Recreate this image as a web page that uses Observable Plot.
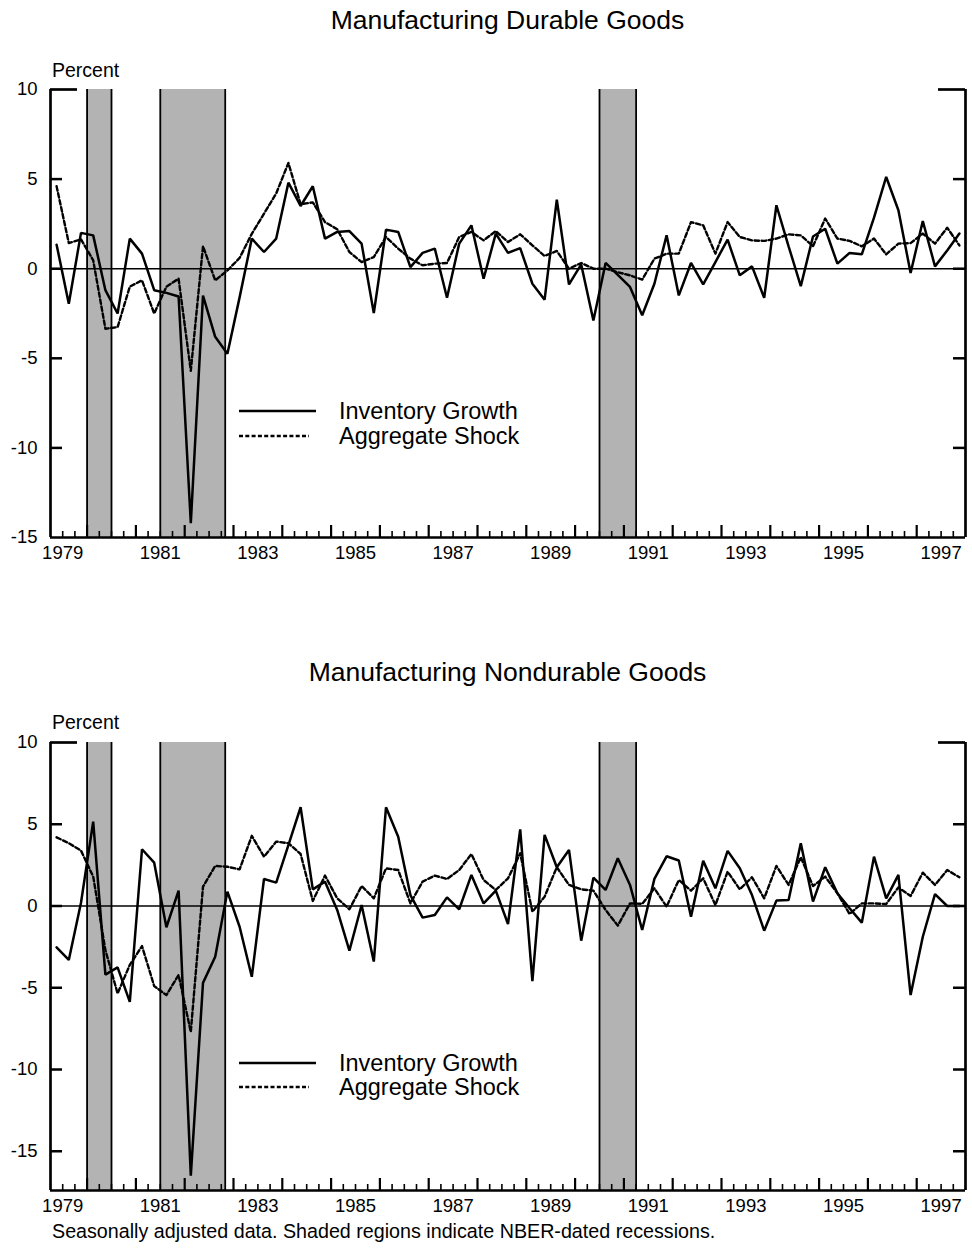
<!DOCTYPE html>
<html>
<head>
<meta charset="utf-8">
<script src="https://cdn.jsdelivr.net/npm/d3@7"></script>
<script src="https://cdn.jsdelivr.net/npm/@observablehq/plot@0.6"></script>
<style>
  body { margin: 0; background: #fff; }
  #page { position: relative; width: 972px; height: 1255px; overflow: hidden; background: #fff;
          font-family: "Liberation Sans", Arial, Helvetica, sans-serif; color: #000; }
  .abs { position: absolute; white-space: nowrap; line-height: 1; }
  .title { left: 50px; width: 915px; text-align: center; font-size: 26.5px; }
  .unit { left: 52px; font-size: 19.5px; }
  .leg { left: 339px; font-size: 23.5px; }
  .caption { left: 52px; font-size: 19.7px; }
  .panel { position: absolute; left: 0; }
  svg.legline { position: absolute; left: 0; top: 0; overflow: visible; }
</style>
</head>
<body>
<div id="page"></div>
<script>
// ---------- data ----------
const firstQuarter = "1979Q2";
const nQuarters = 75; // 1979Q2 .. 1997Q4

const durableInventory = [
  1.34, -1.96, 2.0, 1.86, -1.2, -2.5, 1.68, 0.84, -1.2, -1.35,
  -1.55, -14.2, -1.5, -3.8, -4.75, -1.6, 1.68, 0.93, 1.68, 4.8,
  3.5, 4.6, 1.68, 2.05, 2.1, 1.4, -2.48, 2.18, 2.05, 0.09,
  0.88, 1.12, -1.62, 1.4, 2.42, -0.56, 1.96, 0.88, 1.15, -0.84,
  -1.73, 3.85, -0.88, 0.24, -2.89, 0.32, -0.35, -1.02, -2.6, -0.84,
  1.86, -1.49, 0.32, -0.88, 0.37, 1.62, -0.37, 0.13, -1.62, 3.54,
  1.25, -0.97, 1.8, 2.23, 0.28, 0.88, 0.8, 2.85, 5.12, 3.26,
  -0.24, 2.66, 0.13, 1.02, 1.96
];
const durableShock = [
  4.6, 1.43, 1.64, 0.47, -3.35, -3.26, -1.0, -0.65, -2.5, -1.0,
  -0.56, -5.7, 1.25, -0.65, -0.1, 0.6, 1.95, 3.07, 4.2, 5.9,
  3.6, 3.7, 2.6, 2.2, 0.93, 0.37, 0.65, 1.77, 1.12, 0.56,
  0.19, 0.28, 0.32, 1.77, 2.05, 1.58, 2.1, 1.49, 1.92, 1.3,
  0.71, 0.99, 0.0, 0.32, 0.0, 0.0, -0.2, -0.37, -0.61, 0.56,
  0.84, 0.84, 2.6, 2.42, 0.84, 2.6, 1.77, 1.58, 1.55, 1.68,
  1.92, 1.86, 1.25, 2.8, 1.68, 1.55, 1.25, 1.68, 0.8, 1.4,
  1.43, 1.96, 1.4, 2.29, 1.3
];
const nondurableInventory = [
  -2.53, -3.3, 0.2, 5.16, -4.2, -3.75, -5.86, 3.47, 2.65, -1.3,
  0.94, -16.5, -4.7, -3.1, 0.88, -1.27, -4.33, 1.65, 1.43, 3.73,
  6.04, 1.02, 1.49, -0.24, -2.73, 0.06, -3.4, 6.04, 4.24, 0.67,
  -0.71, -0.55, 0.53, -0.2, 1.9, 0.16, 0.94, -1.1, 4.69, -4.59,
  4.35, 2.37, 3.43, -2.12, 1.73, 0.98, 2.92, 1.29, -1.47, 1.66,
  3.04, 2.78, -0.65, 2.76, 1.08, 3.37, 2.31, 0.67, -1.51, 0.33,
  0.37, 3.84, 0.27, 2.37, 0.78, -0.14, -1.02, 3.02, 0.47, 1.9,
  -5.45, -1.88, 0.73, 0.0, 0.0
];
const nondurableShock = [
  4.2, 3.84, 3.39, 1.8, -2.7, -5.35, -3.6, -2.45, -4.9, -5.45,
  -4.22, -7.7, 1.18, 2.45, 2.4, 2.24, 4.29, 3.02, 3.94, 3.84,
  3.18, 0.31, 1.86, 0.47, -0.2, 1.22, 0.47, 2.3, 2.2, 0.16,
  1.49, 1.86, 1.65, 2.2, 3.18, 1.59, 0.98, 1.69, 3.22, -0.35,
  0.57, 2.37, 1.29, 1.02, 0.94, -0.24, -1.2, 0.16, 0.13, 1.08,
  -0.04, 1.59, 0.94, 1.69, 0.06, 2.1, 1.02, 1.76, 0.47, 2.45,
  1.29, 2.98, 1.22, 1.8, 0.78, -0.49, 0.16, 0.16, 0.12, 1.14,
  0.61, 2.04, 1.29, 2.2, 1.76
];

// NBER recessions (peak, trough) in decimal years
const recessionStart = [1980.0, 1981.5, 1990.5];
const recessionEnd   = [1980.5, 1982.83, 1991.25];

const xDomain = [1979.25, 1998.0];
const yDomainDurable = [-15, 10];
const yDomainNondurable = [-17.4, 10];
const yTicks = [-15, -10, -5, 0, 5, 10];
const xTickLabels = ["1979", "1981", "1983", "1985", "1987", "1989", "1991", "1993", "1995", "1997"];
const majorTickYears = [1980, 1981, 1982, 1983, 1984, 1985, 1986, 1987, 1988, 1989, 1990, 1991, 1992, 1993, 1994, 1995, 1996, 1997];

const titles = ["Manufacturing Durable Goods", "Manufacturing Nondurable Goods"];
const unitLabel = "Percent";
const legendLabels = ["Inventory Growth", "Aggregate Shock"];
const captionText = "Seasonally adjusted data. Shaded regions indicate NBER-dated recessions.";

// ---------- derived tables ----------
const startYear = +firstQuarter.slice(0, 4), startQ = +firstQuarter.slice(5);
const quarterTime = Array.from({length: nQuarters}, (_, i) => {
  const q = startQ - 1 + i;
  return startYear + Math.floor(q / 4) + ((q % 4) + 0.5) / 4;
});
const recessions = recessionStart.map((s, i) => ({start: s, end: recessionEnd[i]}));
const minorTicks = [];
for (let y = 1979; y < 1998; y++) for (const f of [0.25, 0.5, 0.75]) {
  const v = y + f; if (v > xDomain[0] + 0.01 && v < xDomain[1] - 0.01) minorTicks.push(v);
}
const xLabelPos = xTickLabels.map(s => +s + 0.5);

const W = 972, ML = 50, MR = 7, MT = 9, MB = 43, H = 500;
const FW = W - ML - MR, FH = H - MT - MB;
const FONT = '"Liberation Sans", Arial, Helvetica, sans-serif';
const DASH = "4.5,2.6";

function panel(inv, shock, yDomain) {
  const data = quarterTime.map((t, i) => ({t, inv: inv[i], shock: shock[i]}));
  const top = yDomain[1];
  const innerTicks = yTicks.filter(d => d !== top && d !== yDomain[0]);
  return Plot.plot({
    width: W, height: H,
    marginLeft: ML, marginRight: MR, marginTop: MT, marginBottom: MB,
    style: {fontFamily: FONT, fontSize: "18.5px", background: "transparent", overflow: "visible", color: "#000"},
    x: {domain: xDomain, label: null},
    y: {domain: yDomain, label: null},
    marks: [
      Plot.rect(recessions, {x1: "start", x2: "end", fill: "#b3b3b3"}),
      Plot.ruleX(recessions, {x: "start", stroke: "#000", strokeWidth: 1.8}),
      Plot.ruleX(recessions, {x: "end", stroke: "#000", strokeWidth: 1.8}),
      Plot.ruleY([0], {stroke: "#000", strokeWidth: 1.6}),
      Plot.line(data, {x: "t", y: "shock", stroke: "#000", strokeWidth: 2.4, strokeDasharray: DASH}),
      Plot.line(data, {x: "t", y: "inv", stroke: "#000", strokeWidth: 2.5, strokeLinejoin: "miter"}),
      // frame: left, right, bottom
      Plot.ruleX(xDomain, {stroke: "#000", strokeWidth: 2.7}),
      Plot.ruleY([yDomain[0]], {stroke: "#000", strokeWidth: 2.7}),
      // inward y ticks
      Plot.tickY(innerTicks, {y: d => d, insetRight: FW - 12, stroke: "#000", strokeWidth: 2.5}),
      Plot.tickY(innerTicks, {y: d => d, insetLeft: FW - 12, stroke: "#000", strokeWidth: 2.5}),
      Plot.tickY([top], {y: d => d, insetRight: FW - 27, stroke: "#000", strokeWidth: 2.7}),
      Plot.tickY([top], {y: d => d, insetLeft: FW - 27, stroke: "#000", strokeWidth: 2.7}),
      // inward x ticks
      Plot.tickX(majorTickYears, {x: d => d, insetTop: FH - 12, stroke: "#000", strokeWidth: 2.2}),
      Plot.tickX(minorTicks, {x: d => d, insetTop: FH - 6, stroke: "#000", strokeWidth: 1.6}),
      Plot.axisY({anchor: "left", ticks: yTicks, tickSize: 0, tickPadding: 13, label: null, tickFormat: d => String(d)}),
      Plot.axisX({anchor: "bottom", ticks: xLabelPos, tickSize: 0, tickPadding: 8, label: null,
                  tickFormat: d => xTickLabels[xLabelPos.indexOf(d)]})
    ]
  });
}

const page = document.getElementById("page");
function addText(cls, text, top) {
  const d = document.createElement("div");
  d.className = "abs " + cls; d.textContent = text; d.style.top = top + "px";
  page.appendChild(d); return d;
}
function addLegend(yLine1, yLine2) {
  const ns = "http://www.w3.org/2000/svg";
  const s = document.createElementNS(ns, "svg");
  s.setAttribute("class", "legline"); s.setAttribute("width", W); s.setAttribute("height", 10);
  const l1 = document.createElementNS(ns, "line");
  l1.setAttribute("x1", 239); l1.setAttribute("x2", 316); l1.setAttribute("y1", yLine1); l1.setAttribute("y2", yLine1);
  l1.setAttribute("stroke", "#000"); l1.setAttribute("stroke-width", 2.7);
  const l2 = document.createElementNS(ns, "line");
  l2.setAttribute("x1", 239); l2.setAttribute("x2", 309); l2.setAttribute("y1", yLine2); l2.setAttribute("y2", yLine2);
  l2.setAttribute("stroke", "#000"); l2.setAttribute("stroke-width", 2.4); l2.setAttribute("stroke-dasharray", "4,2.3");
  s.appendChild(l1); s.appendChild(l2);
  page.appendChild(s);
  addText("leg", legendLabels[0], yLine1 - 11.5);
  addText("leg", legendLabels[1], yLine2 - 11.5);
}

// top panel
const p1 = panel(durableInventory, durableShock, yDomainDurable);
p1.classList.add("panel"); p1.style.top = "80px";
page.appendChild(p1);
// bottom panel
const p2 = panel(nondurableInventory, nondurableShock, yDomainNondurable);
p2.classList.add("panel"); p2.style.top = "733px";
page.appendChild(p2);

addText("title", titles[0], 7);
addText("unit", unitLabel, 60.5);
addLegend(411, 436);
addText("title", titles[1], 659);
addText("unit", unitLabel, 713);
addLegend(1063, 1087);
addText("caption", captionText, 1222);
</script>
</body>
</html>
